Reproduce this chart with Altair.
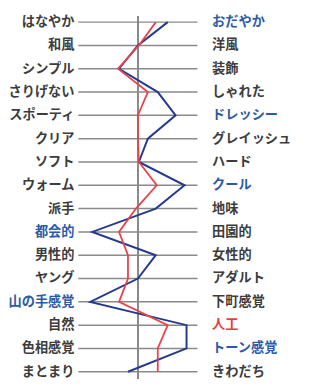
import altair as alt
import pandas as pd

left_labels = ["はなやか", "和風", "シンプル", "さりげない", "スポーティ", "クリア", "ソフト", "ウォーム",
               "派手", "都会的", "男性的", "ヤング", "山の手感覚", "自然", "色相感覚", "まとまり"]
right_labels = ["おだやか", "洋風", "装飾", "しゃれた", "ドレッシー", "グレイッシュ", "ハード", "クール",
                "地味", "田園的", "女性的", "アダルト", "下町感覚", "人工", "トーン感覚", "きわだち"]
blue_values = [1.5, 0.0, -0.95, 1.0, 1.9, 0.5, 0.05, 2.35, 0.9, -2.3, 0.9, 0.0, -2.4, 2.45, 2.45, -0.5]
red_values = [0.9, 0.05, -1.0, 0.5, 0.0, 0.0, 0.05, 0.95, -0.1, -0.95, -0.5, -0.5, -0.95, 1.5, 1.0, 1.0]

GRAY_T = "#3c3c3c"
BLUE_T = "#2b5aa6"
RED_T = "#e83c42"
left_colors = [GRAY_T] * 16
left_colors[9] = BLUE_T
left_colors[12] = BLUE_T
right_colors = [GRAY_T] * 16
for i in (0, 4, 7, 14):
    right_colors[i] = BLUE_T
right_colors[13] = RED_T

df = pd.DataFrame({
    "row": list(range(16)),
    "left": left_labels,
    "right": right_labels,
    "blue": blue_values,
    "red": red_values,
    "lc": left_colors,
    "rc": right_colors,
})

FONT = "Noto Sans CJK JP"
xs = alt.Scale(domain=[-3, 3], nice=False, zero=False)
ys = alt.Scale(domain=[0, 15], reverse=True, nice=False, zero=False)

base = alt.Chart(df)

grid = base.mark_rule(color="#8a8a8a", strokeWidth=1.5).encode(
    x=alt.X(datum=-3, type="quantitative", scale=xs, axis=None),
    x2=alt.datum(3),
    y=alt.Y("row:Q", scale=ys, axis=None),
)

center = base.mark_rule(color="#8a8a8a", strokeWidth=1.5).encode(
    x=alt.X(datum=0, type="quantitative", scale=xs, axis=None),
    y=alt.Y(datum=-0.25, type="quantitative", scale=ys, axis=None),
    y2=alt.datum(15.3),
)

blue_line = base.mark_line(color="#243a8c", strokeWidth=2).encode(
    x=alt.X("blue:Q", scale=xs, axis=None),
    y=alt.Y("row:Q", scale=ys, axis=None),
    order="row:Q",
)

red_line = base.mark_line(color="#ec4048", strokeWidth=1.8).encode(
    x=alt.X("red:Q", scale=xs, axis=None),
    y=alt.Y("row:Q", scale=ys, axis=None),
    order="row:Q",
)

left_text = base.mark_text(align="right", baseline="middle", dx=-4, fontSize=13.5,
                           font=FONT, fontWeight="bold").encode(
    x=alt.X(datum=-3, type="quantitative", scale=xs, axis=None),
    y=alt.Y("row:Q", scale=ys, axis=None),
    text="left:N",
    color=alt.Color("lc:N", scale=None),
)

right_text = base.mark_text(align="left", baseline="middle", dx=15, fontSize=13.5,
                            font=FONT, fontWeight="bold").encode(
    x=alt.X(datum=3, type="quantitative", scale=xs, axis=None),
    y=alt.Y("row:Q", scale=ys, axis=None),
    text="right:N",
    color=alt.Color("rc:N", scale=None),
)

chart = alt.layer(grid, center, blue_line, red_line, left_text, right_text).properties(
    width=122,
    height=358,
    padding={"top": 10, "bottom": 5, "left": 72, "right": 106},
    autosize=alt.AutoSizeParams(type="none"),
    background="white",
).configure_view(stroke=None)

chart.save("out.html", embed_options={"renderer": "svg", "actions": False})
